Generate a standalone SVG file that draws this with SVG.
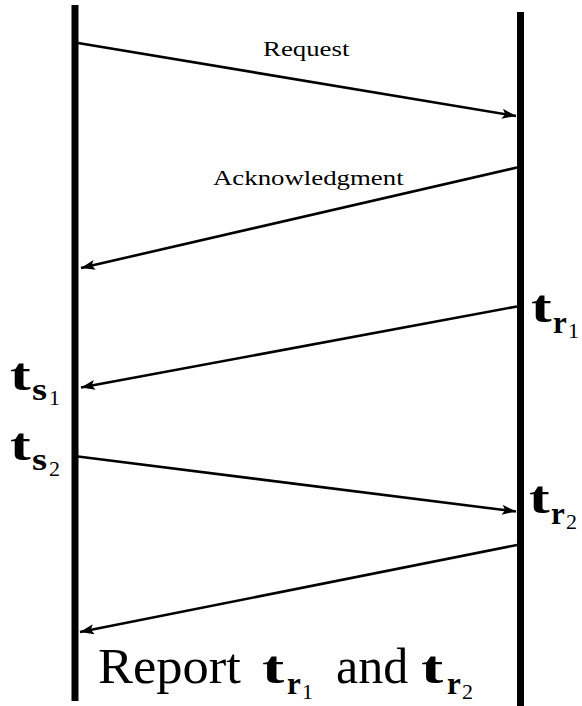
<svg xmlns="http://www.w3.org/2000/svg" width="582" height="706" viewBox="0 0 582 706" font-family="Liberation Serif, serif">
<defs>
<marker id="ah" markerUnits="userSpaceOnUse" markerWidth="16" markerHeight="12" refX="14" refY="5" orient="auto">
<path d="M0,0 L14,5 L0,10 L3,5 Z" fill="#000"/>
</marker>
</defs>
<g id="sender"><line x1="75" y1="5" x2="75" y2="701" stroke="#000" stroke-width="7"/></g>
<g id="receiver"><line x1="520.5" y1="12" x2="520.5" y2="706" stroke="#000" stroke-width="7"/></g>
<g id="connectors" stroke="#000" stroke-width="2.6" fill="none">
<line x1="78" y1="43" x2="516" y2="116" marker-end="url(#ah)"/>
<line x1="517" y1="167.5" x2="81" y2="268" marker-end="url(#ah)"/>
<line x1="517" y1="306.5" x2="81" y2="387.5" marker-end="url(#ah)"/>
<line x1="78" y1="456.5" x2="516" y2="511.5" marker-end="url(#ah)"/>
<line x1="517" y1="545" x2="80" y2="632" marker-end="url(#ah)"/>
</g>
<text id="label-request" font-family="Liberation Serif, serif" font-size="22" transform="translate(263,56) scale(1.22,1)">Request</text>
<text id="label-ack" font-family="Liberation Serif, serif" font-size="22" transform="translate(213,185) scale(1.22,1)">Acknowledgment</text>
<g id="label-tr1">
<text font-family="Liberation Serif, serif" font-size="46" font-weight="bold" transform="translate(531,322) scale(1.35,1)">t</text>
<text font-family="Liberation Serif, serif" font-size="31" font-weight="bold" x="553" y="333">r</text>
<text font-family="Liberation Serif, serif" font-size="22" x="568" y="338">1</text>
</g>
<g id="label-ts1">
<text font-family="Liberation Serif, serif" font-size="46" font-weight="bold" transform="translate(10,390) scale(1.35,1)">t</text>
<text font-family="Liberation Serif, serif" font-size="31" font-weight="bold" transform="translate(32,400) scale(1.25,1)">s</text>
<text font-family="Liberation Serif, serif" font-size="22" x="49" y="405">1</text>
</g>
<g id="label-ts2">
<text font-family="Liberation Serif, serif" font-size="46" font-weight="bold" transform="translate(10,460) scale(1.35,1)">t</text>
<text font-family="Liberation Serif, serif" font-size="31" font-weight="bold" transform="translate(32,470) scale(1.25,1)">s</text>
<text font-family="Liberation Serif, serif" font-size="22" x="49" y="476">2</text>
</g>
<g id="label-tr2">
<text font-family="Liberation Serif, serif" font-size="46" font-weight="bold" transform="translate(529,513) scale(1.35,1)">t</text>
<text font-family="Liberation Serif, serif" font-size="31" font-weight="bold" x="551" y="524">r</text>
<text font-family="Liberation Serif, serif" font-size="22" x="566" y="529">2</text>
</g>
<g id="label-report">
<text font-family="Liberation Serif, serif" font-size="50" transform="translate(98,683) scale(1.05,1)">Report</text>
<text font-family="Liberation Serif, serif" font-size="46" font-weight="bold" transform="translate(262,683) scale(1.45,1)">t</text>
<text font-family="Liberation Serif, serif" font-size="31" font-weight="bold" x="287" y="694">r</text>
<text font-family="Liberation Serif, serif" font-size="22" x="302" y="699">1</text>
<text font-family="Liberation Serif, serif" font-size="50" x="336" y="683">and</text>
<text font-family="Liberation Serif, serif" font-size="46" font-weight="bold" transform="translate(421,683) scale(1.45,1)">t</text>
<text font-family="Liberation Serif, serif" font-size="31" font-weight="bold" x="447" y="694">r</text>
<text font-family="Liberation Serif, serif" font-size="22" x="462" y="699">2</text>
</g>
</svg>
